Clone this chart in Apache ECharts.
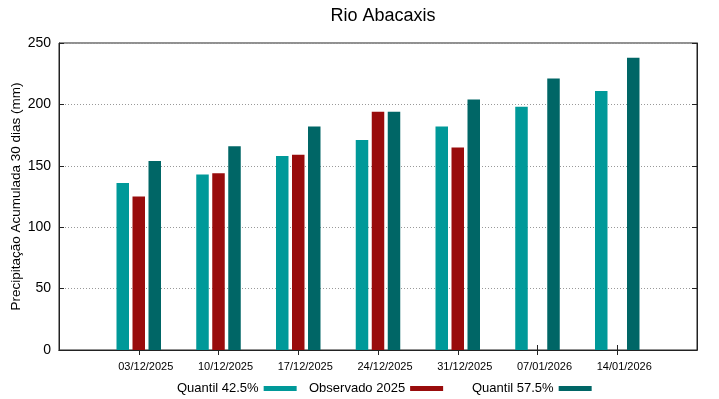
<!DOCTYPE html>
<html>
<head>
<meta charset="utf-8">
<script src="https://cdn.jsdelivr.net/npm/echarts@6/dist/echarts.min.js"></script>
<style>
  html, body { margin: 0; padding: 0; background: #fff; }
  #chart { width: 719px; height: 399px; }
</style>
</head>
<body>
<div id="chart"></div>
<script>
  // dados (mm)
  var datas = ['', '03/12/2025', '10/12/2025', '17/12/2025', '24/12/2025', '31/12/2025', '07/01/2026', '14/01/2026', '']
  var quantil425 = [null, 136, 143, 158, 171, 182, 198, 211, null]
  var observado = [null, 125, 144, 159, 194, 165, null, null, null]
  var quantil575 = [null, 154, 166, 182, 194, 204, 221, 238, null]
  var yTicks = [0, 50, 100, 150, 200, 250]

  var fonte = 'Liberation Sans'
  var chart = echarts.init(document.getElementById('chart'))

  function legenda (nome, esq) {
    return {
      left: esq,
      top: 382,
      padding: 0,
      align: 'right',
      icon: 'rect',
      itemWidth: 33,
      itemHeight: 5,
      selectedMode: false,
      textStyle: { fontFamily: fonte, fontSize: 13, color: '#000' },
      data: [nome]
    }
  }

  // só marca as datas, não as pontas vazias
  function soDatas (idx, val) {
    return val !== ''
  }

  chart.setOption({
    animation: false,
    title: {
      text: 'Rio Abacaxis',
      left: 378,
      textAlign: 'center',
      top: 2,
      textStyle: { fontFamily: fonte, fontSize: 18, fontWeight: 'normal', color: '#000' }
    },
    legend: [
      legenda('Quantil 42.5%', 177),
      legenda('Observado 2025', 309),
      legenda('Quantil 57.5%', 472)
    ],
    grid: {
      left: 59, right: 22, top: 43, bottom: 49,
      outerBoundsMode: 'none', containLabel: false,
      show: true, borderColor: '#222', borderWidth: 1, backgroundColor: 'transparent'
    },
    xAxis: [
      {
        type: 'category',
        data: datas,
        boundaryGap: false,
        axisLine: { lineStyle: { color: '#222' } },
        axisTick: { inside: true, length: 5, interval: soDatas, lineStyle: { color: '#222' } },
        axisLabel: { fontFamily: fonte, fontSize: 11, color: '#000', margin: 11, padding: [0, 0, 0, 14], interval: 0 },
        splitLine: { show: false }
      },
      {
        type: 'category',
        data: datas,
        position: 'top',
        boundaryGap: false,
        axisLine: { lineStyle: { color: '#222' } },
        axisTick: { inside: true, length: 5, interval: soDatas, lineStyle: { color: '#222' } },
        axisLabel: { show: false }
      }
    ],
    yAxis: [
      {
        type: 'value',
        min: yTicks[0],
        max: yTicks[yTicks.length - 1],
        interval: 50,
        name: 'Precipitação Acumulada 30 dias (mm)',
        nameLocation: 'middle',
        nameGap: 36,
        nameMoveOverlap: false,
        nameTextStyle: { fontFamily: fonte, fontSize: 13.5, color: '#000' },
        axisLine: { show: true, lineStyle: { color: '#222' } },
        axisTick: { show: true, inside: true, length: 5, lineStyle: { color: '#222' } },
        axisLabel: { fontFamily: fonte, fontSize: 14, color: '#000', margin: 8 },
        splitLine: { show: true, lineStyle: { color: '#999', type: [1, 2], width: 1 } }
      },
      {
        type: 'value',
        min: yTicks[0],
        max: yTicks[yTicks.length - 1],
        interval: 50,
        position: 'right',
        axisLine: { show: true, lineStyle: { color: '#222' } },
        axisTick: { show: true, inside: true, length: 5, lineStyle: { color: '#222' } },
        axisLabel: { show: false },
        splitLine: { show: false }
      }
    ],
    series: [
      { name: 'Quantil 42.5%', type: 'bar', data: quantil425, barWidth: 12.5, barGap: '28%', itemStyle: { color: '#009999' } },
      { name: 'Observado 2025', type: 'bar', data: observado, barWidth: 12.5, barGap: '28%', itemStyle: { color: '#990c0c' } },
      { name: 'Quantil 57.5%', type: 'bar', data: quantil575, barWidth: 12.5, barGap: '28%', itemStyle: { color: '#006666' } }
    ]
  })
</script>
</body>
</html>
